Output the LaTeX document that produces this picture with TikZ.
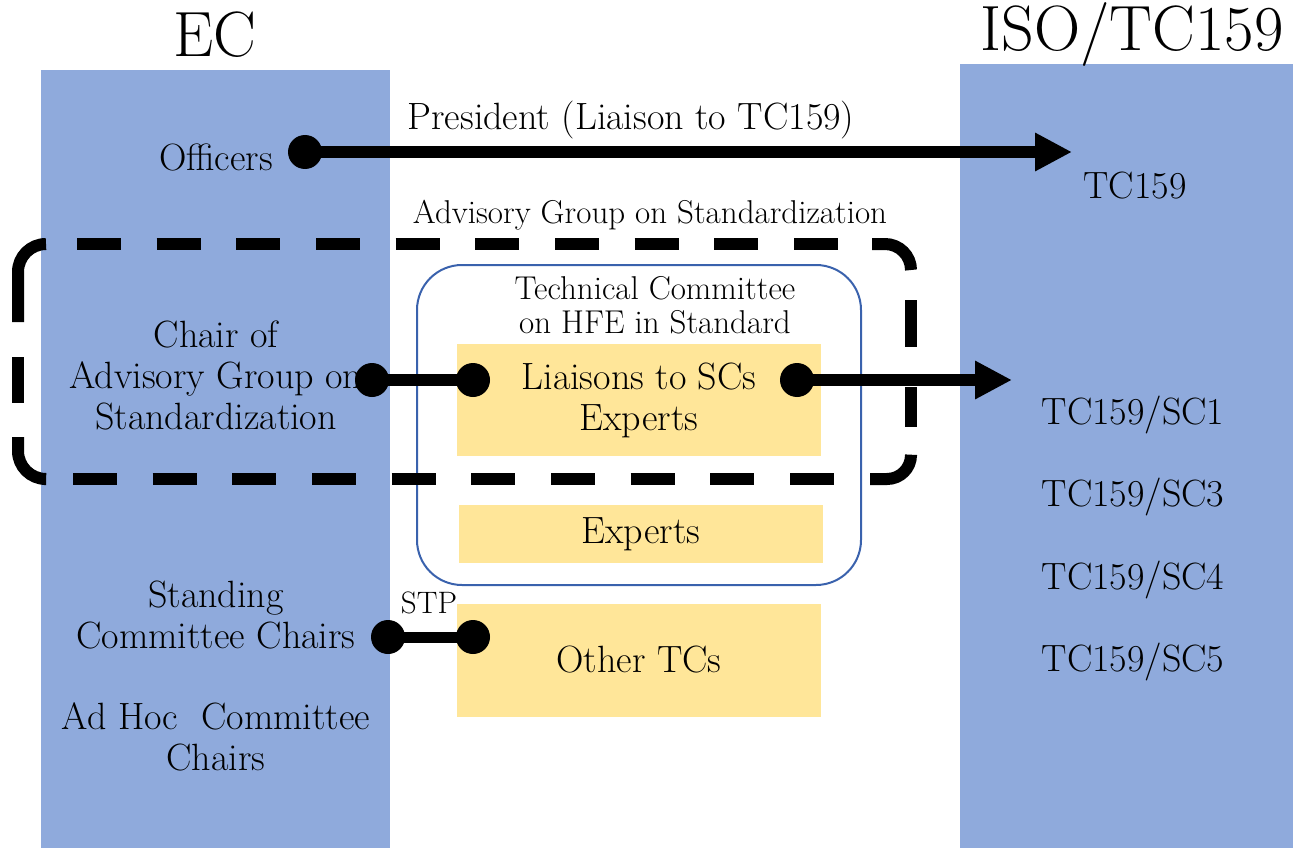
\documentclass[tikz,border=0pt]{standalone}
\usepackage{fontspec}
\usetikzlibrary{arrows.meta}
\definecolor{ecblue}{HTML}{8FAADC}
\definecolor{boxyellow}{HTML}{FFE699}
\definecolor{tcline}{HTML}{3A62AD}
\begin{document}
\begin{tikzpicture}[x=1pt,y=-1pt,
  bigtitle/.style={font=\fontsize{64}{70}\selectfont, inner sep=0pt},
  maintext/.style={font=\fontsize{38}{41}\selectfont, align=center, inner sep=0pt},
  midtext/.style={font=\fontsize{33}{34}\selectfont, align=center, inner sep=0pt},
  smalltext/.style={font=\fontsize{31}{34}\selectfont, inner sep=0pt},
  panel/.style={fill=ecblue, draw=none, inner sep=0pt, outer sep=0pt, anchor=north west},
  ybox/.style={fill=boxyellow, draw=none, inner sep=0pt, outer sep=0pt},
  dot/.style={circle, fill=black, inner sep=0pt, minimum size=34pt},
  link/.style={line width=12pt},
  bigarrow/.style={line width=12pt, -{Triangle[length=37pt,width=36pt]}},
  agsline/.style={draw=black, line width=12pt, line cap=butt},
  agsdash/.style={agsline, dash pattern=on 44pt off 35.67pt},
  tcframe/.style={draw=tcline, line width=2pt, rounded corners=45pt, inner sep=0pt},
]
\useasboundingbox (0,0) rectangle (1293,848);

% panels
\node[panel, minimum width=349pt, minimum height=778pt] (ec) at (41,70) {};
\node[panel, minimum width=333pt, minimum height=784pt] (iso) at (960,64) {};

% titles
\node[bigtitle] (ectitle) at (215,35) {EC};
\node[bigtitle] (isotitle) at (1132,35) {ISO/TC159};

% yellow boxes
\node[ybox, minimum width=364pt, minimum height=112pt, maintext] (liaison) at (639,400) {Liaisons to SCs\\Experts};
\node[ybox, minimum width=364pt, minimum height=58pt, maintext] (experts) at (641,534) {Experts};
\node[ybox, minimum width=364pt, minimum height=113pt, maintext] (othertc) at (639,660) {Other TCs};

% technical committee frame
\node[tcframe, minimum width=444pt, minimum height=320pt] (tc) at (639,425) {};
\node[midtext] (tclabel) at (655,305) {Technical Committee\\on HFE in Standard};

% advisory group frame (dashed, drawn piece by piece)
\node[inner sep=0pt, minimum width=893pt, minimum height=235pt] (ags) at (464.5,361.5) {};
\draw[agsdash] (77,244) -- (838,244);
\draw[agsdash] (73,479) -- (834,479);
\draw[agsline, rounded corners=28pt] (46,244) -- (18,244) -- (18,322);
\draw[agsline] (18,357) -- (18,403);
\draw[agsline, rounded corners=28pt] (18,437) -- (18,479) -- (44,479);
\draw[agsline, rounded corners=26pt] (872,244) -- (911,244) -- (911,270);
\draw[agsline] (911,300) -- (911,347);
\draw[agsline] (911,387) -- (911,427);
\draw[agsline, rounded corners=24pt] (911,456) -- (911,479) -- (870,479);
\node[midtext] (agslabel) at (650,215) {Advisory Group on Standardization};

% left texts
\node[maintext] (officers) at (216,157) {Officers};
\node[maintext] (chair) at (216,375) {Chair of\\Advisory Group on\\Standardization};
\node[maintext] (standing) at (216,615) {Standing\\Committee Chairs};
\node[maintext] (adhoc) at (216,737) {Ad Hoc~ Committee\\Chairs};

% right texts
\node[maintext] (tc159) at (1135,186) {TC159};
\node[maintext] (sc1) at (1133,415) {TC159/SC1};
\node[maintext] (sc3) at (1133,497) {TC159/SC3};
\node[maintext] (sc4) at (1133,580) {TC159/SC4};
\node[maintext] (sc5) at (1133,662) {TC159/SC5};

% labels on connectors
\node[maintext] (president) at (631,120) {President (Liaison to TC159)};
\node[smalltext] (stp) at (429,603) {STP};

% connectors
\node[dot] (offdot) at (305,152) {};
\coordinate (tcarrow) at (1072,152);
\draw[bigarrow] (offdot.center) -- (tcarrow);

\node[dot] (chairdot) at (372,380) {};
\node[dot] (liaisonin) at (473,380) {};
\draw[link] (chairdot.center) -- (liaisonin.center);

\node[dot] (liaisonout) at (797,380) {};
\coordinate (scarrow) at (1012,380);
\draw[bigarrow] (liaisonout.center) -- (scarrow);

\node[dot] (stpa) at (388,637) {};
\node[dot] (stpb) at (473,637) {};
\draw[line width=11pt] (stpa.center) -- (stpb.center);
\end{tikzpicture}
\end{document}
